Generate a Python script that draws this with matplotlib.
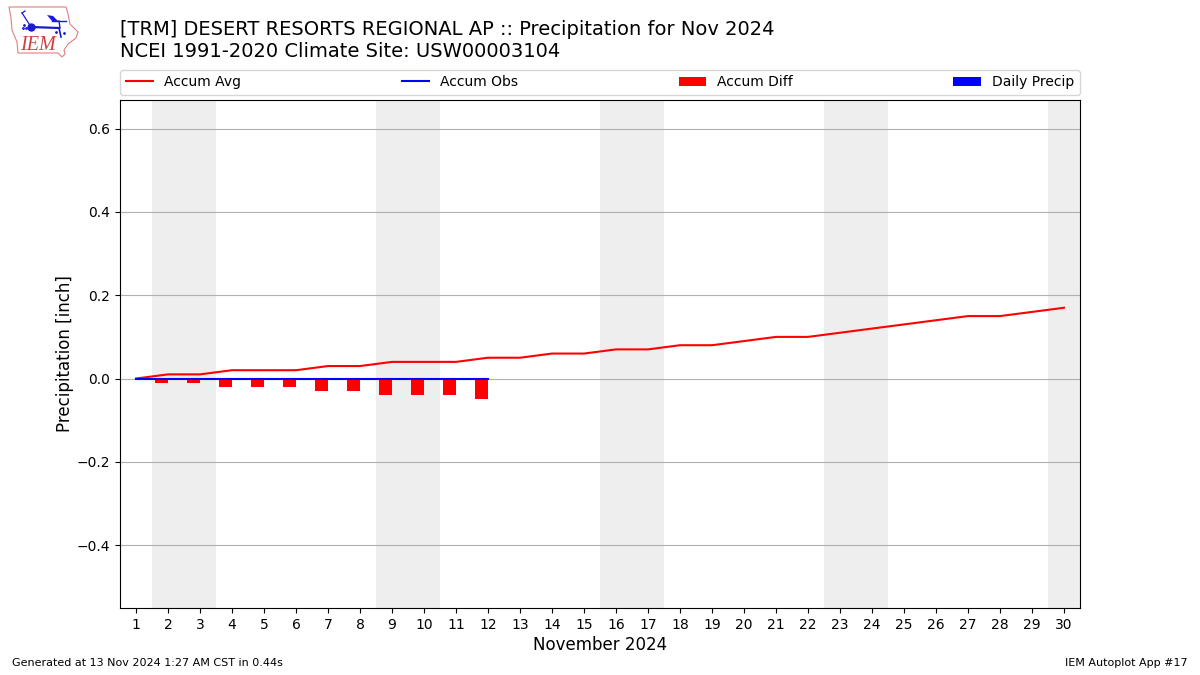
import matplotlib
matplotlib.use("Agg")
import matplotlib.pyplot as plt
from matplotlib.patches import Polygon

days = list(range(1, 31))
accum_avg = [0.00, 0.01, 0.01, 0.02, 0.02, 0.02, 0.03, 0.03, 0.04, 0.04,
             0.04, 0.05, 0.05, 0.06, 0.06, 0.07, 0.07, 0.08, 0.08, 0.09,
             0.10, 0.10, 0.11, 0.12, 0.13, 0.14, 0.15, 0.15, 0.16, 0.17]
obs_days = list(range(1, 13))
accum_obs = [0.0] * 12
accum_diff = [0.00, -0.01, -0.01, -0.02, -0.02, -0.02, -0.03, -0.03, -0.04, -0.04, -0.04, -0.05]
daily_precip = [0.0] * 12
weekends = [(1.5, 3.5), (8.5, 10.5), (15.5, 17.5), (22.5, 24.5), (29.5, 30.5)]

title = ("[TRM] DESERT RESORTS REGIONAL AP :: Precipitation for Nov 2024\n"
         "NCEI 1991-2020 Climate Site: USW00003104")

fig = plt.figure(figsize=(12, 6.75), dpi=100)
ax = fig.add_axes([0.1, 0.0993, 0.8, 0.7526])

for start, end in weekends:
    ax.axvspan(start, end, color="#eeeeee", lw=0, zorder=0)

ax.bar(obs_days, accum_diff, width=-0.4, align="edge", color="r", label="Accum Diff", zorder=2)
ax.bar(obs_days, daily_precip, width=0.4, align="edge", color="b", label="Daily Precip", zorder=2)
ax.plot(days, accum_avg, color="r", lw=1.5, label="Accum Avg", zorder=3)
ax.plot(obs_days, accum_obs, color="b", lw=1.5, label="Accum Obs", zorder=4)

ax.set_xlim(0.5, 30.5)
ax.set_ylim(-0.551, 0.669)
ax.set_xticks(days)
ax.set_yticks([-0.4, -0.2, 0.0, 0.2, 0.4, 0.6])
ax.grid(True, axis="y", color="#b0b0b0")
ax.set_axisbelow(True)
ax.set_xlabel("November 2024", fontsize=12, labelpad=3)
ax.set_ylabel("Precipitation [inch]", fontsize=12, labelpad=2)

handles, labels = ax.get_legend_handles_labels()
order = [labels.index(n) for n in ["Accum Avg", "Accum Obs", "Accum Diff", "Daily Precip"]]
ax.legend([handles[i] for i in order], [labels[i] for i in order],
          ncol=4, mode="expand", loc="lower left",
          bbox_to_anchor=(0, 1.01, 1, 0.05), borderaxespad=0, fontsize=10)

fig.text(0.1, 0.909, title, fontsize=14, ha="left", va="bottom", linespacing=1.2)
fig.text(0.01, 0.0104, "Generated at 13 Nov 2024 1:27 AM CST in 0.44s", fontsize=8, ha="left", va="bottom")
fig.text(0.99, 0.0104, "IEM Autoplot App #17", fontsize=8, ha="right", va="bottom")

# rough stand-in for the IEM logo, pixel units
logo = fig.add_axes([0, 1 - 60 / 675, 80 / 1200, 60 / 675])
logo.set_xlim(0, 80)
logo.set_ylim(60, 0)
logo.axis("off")
outline = [(9, 7), (66, 7), (68, 14), (70, 24), (78, 32), (76, 38), (68, 44), (64, 50),
           (65, 54), (62, 57), (58, 53), (18, 53), (17, 42), (12, 30), (11, 18)]
logo.add_patch(Polygon(outline, closed=True, fill=False, ec="#e08080", lw=0.8))
logo.plot([31, 59], [27, 28], color="#1a1ad0", lw=1.6)
logo.plot([59, 61], [28, 37], color="#1a1ad0", lw=1.2)
logo.plot([52, 66], [21, 21], color="#1a1ad0", lw=1.0)
logo.plot([59, 60], [21, 28], color="#1a1ad0", lw=1.0)
logo.add_patch(Polygon([(47, 15), (53, 16), (58, 21), (52, 21)], closed=True, fc="#1a1ad0", ec="none"))
logo.plot([31, 24, 22], [27, 16, 13], color="#1a1ad0", lw=0.9)
logo.plot([22, 25], [13, 11], color="#1a1ad0", lw=0.9)
logo.plot([31], [27], "o", color="#1a1ad0", ms=5)
logo.plot([23, 26, 24], [28, 28, 25], ".", color="#1a1ad0", ms=2)
logo.plot([56, 64], [32, 33], ".", color="#1a1ad0", ms=2)
logo.text(38, 46, "IEM", color="#d04040", fontsize=14.5, family="Liberation Serif",
          style="italic", ha="center", va="center")

fig.savefig("out.png", dpi=100)
